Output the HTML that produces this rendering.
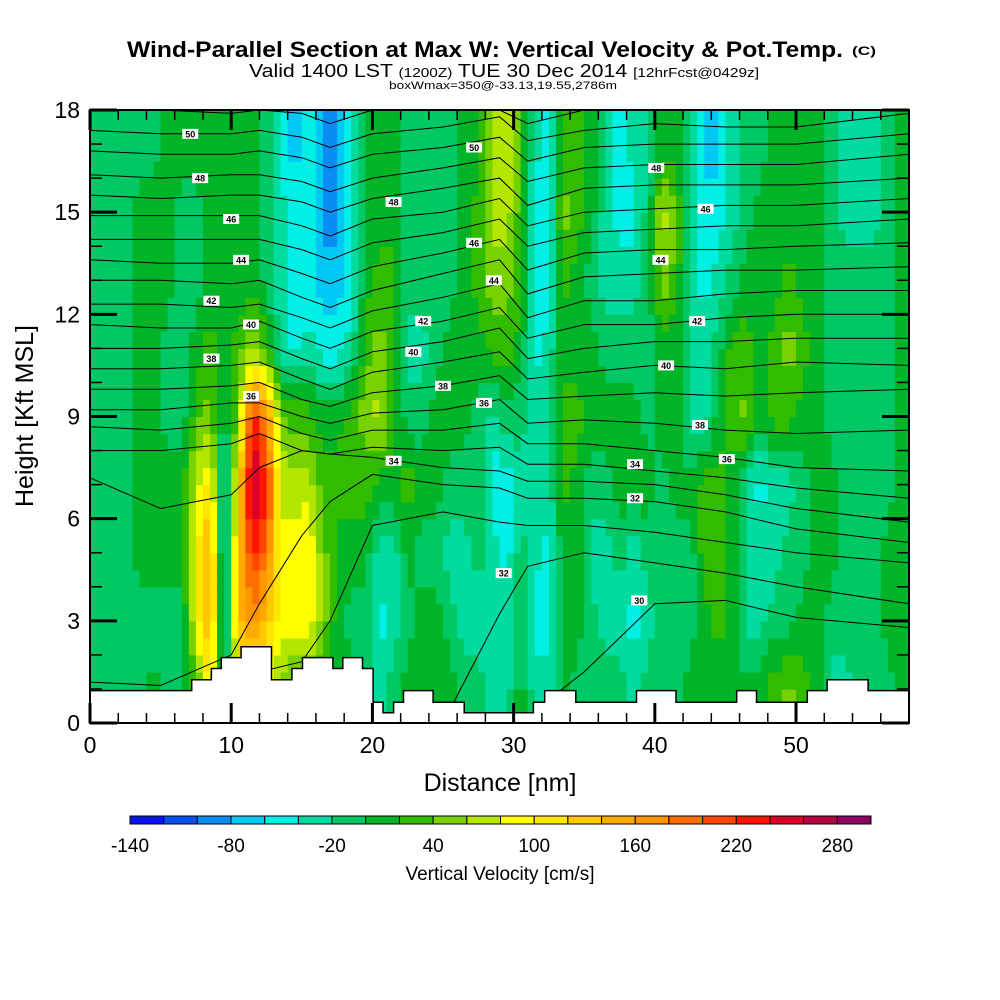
<!DOCTYPE html>
<html><head><meta charset="utf-8"><title>Wind-Parallel Section</title>
<style>html,body{margin:0;padding:0;background:#fff;}svg{display:block;font-family:"Liberation Sans",sans-serif;}</style>
</head><body>
<svg id="chart" width="1000" height="1000" viewBox="0 0 1000 1000" xmlns="http://www.w3.org/2000/svg">
<g>
<text x="127" y="57" font-size="22" font-weight="bold" textLength="716" lengthAdjust="spacingAndGlyphs">Wind-Parallel Section at Max W: Vertical Velocity &amp; Pot.Temp.</text>
<text x="852" y="55" font-size="12" font-weight="bold" textLength="24" lengthAdjust="spacingAndGlyphs">(C)</text>
<text x="249" y="77" font-size="18" textLength="510" lengthAdjust="spacingAndGlyphs">Valid 1400 LST <tspan font-size="13">(1200Z)</tspan> TUE 30 Dec 2014 <tspan font-size="13">[12hrFcst@0429z]</tspan></text>
<text x="389" y="89" font-size="11" textLength="228" lengthAdjust="spacingAndGlyphs">boxWmax=350@-33.13,19.55,2786m</text>
</g>
<g id="heat"></g>
<g id="contours" fill="none" stroke="#000" stroke-width="1"></g>
<g id="labels"></g>
<g id="terrain"></g>
<rect x="90" y="110" width="819" height="613" fill="none" stroke="#000" stroke-width="2"/>
<g id="ticks" stroke="#000"></g>
<g id="ticklabels" font-size="23"></g>
<text x="500" y="791" font-size="25" text-anchor="middle">Distance [nm]</text>
<text x="0" y="0" font-size="25" text-anchor="middle" transform="translate(33,416) rotate(-90)">Height [Kft MSL]</text>
<g id="colorbar"></g>
<text x="500" y="880" font-size="19" text-anchor="middle">Vertical Velocity [cm/s]</text>
</svg>
<script>
// ---- data ----
const palette = ["#0a14f0","#0050f5","#0a8cf5","#00c8f5","#00f0e6","#00dca0","#00c864","#00b428","#32bc00","#78d200","#b4e600","#ffff00","#ffe600","#ffc800","#ffaa00","#ff9600","#ff6e00","#ff4600","#ff1400","#dc0028","#b40040","#8c0064"];
const cbTickValues = [-140,-80,-20,40,100,160,220,280];
const xTickValues = [0,10,20,30,40,50];
const yTickValues = [0,3,6,9,12,15,18];
// vertical velocity profiles, one per 1-nm column (bottom 0-2 kft ... top 16-18 kft), cm/s
const wProfiles = [
[-10,-10,-10,-10,-10,-10,-10,-10,-10],
[-10,-10,-10,-10,-10,-10,-10,-10,-10],
[-10,-10,-10,-10,-10,-10,-10,-10,-10],
[-10,-10,10,10,10,10,10,10,-10],
[10,-10,10,10,10,10,10,10,-10],
[-10,-10,10,10,-10,-10,10,10,10],
[-10,-10,10,10,-10,-10,-10,-10,10],
[30,90,90,70,30,10,-10,-10,10],
[110,150,150,110,50,30,10,10,10],
[-30,-50,-50,-50,-10,10,10,10,10],
[90,130,130,110,50,30,10,10,10],
[110,170,230,270,230,50,10,10,10],
[90,130,190,230,170,30,-10,-10,-10],
[50,90,90,70,50,-30,-30,-30,-50],
[30,90,90,70,30,-50,-50,-50,-70],
[30,100,100,70,30,-30,-50,-50,-50],
[10,50,50,30,10,-50,-70,-90,-90],
[10,10,10,30,10,-50,-70,-90,-90],
[10,-10,10,30,30,-30,-50,-50,-50],
[-10,-10,10,30,50,30,10,10,10],
[-30,-50,-30,10,70,50,30,10,10],
[-10,-30,-30,10,30,30,30,10,10],
[10,-10,10,30,-10,-30,-10,-10,-10],
[10,10,-10,10,-10,-30,-10,-10,-10],
[10,10,-10,10,10,-10,-10,-10,-10],
[10,-10,-30,-10,10,10,-10,-10,-10],
[-10,-30,-30,-10,10,10,10,10,10],
[-10,-30,-10,-10,-10,10,30,30,10],
[-30,-30,-30,-50,-30,30,50,70,70],
[-30,-30,-50,-50,-10,30,50,70,70],
[10,-10,-10,-30,-10,10,30,30,30],
[-30,-50,-30,-30,-30,-50,-50,-50,-30],
[-30,-50,-50,-30,-30,-30,-50,-50,-50],
[10,10,10,30,30,10,30,50,30],
[-10,10,10,10,30,10,10,30,30],
[-10,-10,-30,-10,10,10,-10,10,10],
[-10,-30,-30,-10,10,-10,-30,-30,-30],
[-10,-30,-10,10,10,-10,-30,-50,-50],
[-30,-50,-30,10,10,-10,-30,-50,-30],
[-10,-30,-10,10,-10,-10,-10,-10,-30],
[-10,-10,-10,-10,10,10,50,70,10],
[-10,-10,-10,10,10,10,30,50,10],
[10,-10,-10,10,-30,-30,-30,-30,-30],
[10,10,30,30,-30,-30,-50,-50,-70],
[10,30,30,30,10,-10,-30,-50,-70],
[10,10,10,10,30,30,-10,-30,-30],
[10,-30,-30,-30,50,30,10,-10,-10],
[10,-30,-30,-50,10,10,10,10,-10],
[30,-10,-30,-30,30,30,10,10,10],
[50,-10,-10,-30,30,50,30,10,10],
[30,10,-10,-10,10,30,10,10,10],
[10,10,10,10,10,10,10,10,10],
[-30,-10,10,10,-10,-10,-10,-10,-10],
[-30,-10,-10,-10,-10,-10,-10,-30,-30],
[-10,-10,-10,-10,-10,-10,-10,-30,-30],
[-10,-10,-10,-10,-10,-10,-10,-30,-30],
[-10,10,10,-10,-10,-10,-10,-10,-10],
[10,10,10,10,10,10,10,10,10]
];
// potential temperature contour control distances (nm) and heights (kft)
const thetaX = [0,5,10,12,15,17,20,25,29,31,35,40,45,50,58];
const thetaLevels = [51,50,49,48,47,46,45,44,43,42,41,40,39,38,37,36,35,34,33,32,31,30];
const thetaHeights = [
[18.0,18.0,17.9,18.0,17.9,17.6,18.0,18.0,18.0,17.6,18.0,18.0,18.0,18.0,18.0],
[17.4,17.3,17.3,17.4,17.2,16.9,17.3,17.5,17.8,17.1,17.4,17.6,17.5,17.5,17.9],
[16.8,16.7,16.7,16.8,16.6,16.3,16.7,16.9,17.2,16.5,16.9,17.0,17.0,17.0,17.3],
[16.1,16.0,16.1,16.1,15.9,15.6,16.0,16.3,16.6,15.9,16.3,16.4,16.4,16.4,16.7],
[15.5,15.4,15.5,15.5,15.3,15.0,15.4,15.7,16.0,15.2,15.7,15.8,15.8,15.8,16.0],
[14.9,14.9,14.9,14.9,14.6,14.3,14.8,15.0,15.4,14.6,15.0,15.1,15.2,15.2,15.4],
[14.2,14.2,14.2,14.2,13.9,13.6,14.1,14.4,14.8,14.0,14.4,14.5,14.6,14.6,14.8],
[13.6,13.5,13.5,13.6,13.2,12.9,13.4,13.8,14.2,13.3,13.8,13.9,13.9,14.0,14.1],
[13.0,13.0,12.9,13.0,12.5,12.2,12.7,13.2,13.6,12.6,13.1,13.2,13.3,13.3,13.4],
[12.3,12.3,12.2,12.3,11.9,11.6,12.1,12.5,12.9,11.9,12.4,12.4,12.6,12.7,12.7],
[11.7,11.6,11.6,11.8,11.3,11.0,11.5,11.8,12.2,11.3,11.7,11.7,11.9,12.0,12.0],
[11.0,11.0,11.1,11.2,10.7,10.4,10.9,11.2,11.6,10.7,11.0,11.2,11.2,11.3,11.3],
[10.4,10.4,10.5,10.6,10.1,9.8,10.3,10.6,10.9,10.1,10.3,10.5,10.4,10.6,10.5],
[9.8,9.8,9.9,10.0,9.5,9.3,9.7,9.9,10.2,9.5,9.6,9.7,9.6,9.7,9.8],
[9.2,9.2,9.4,9.4,9.0,8.8,9.1,9.2,9.5,8.8,8.9,8.8,8.6,8.5,8.6],
[8.7,8.6,8.8,9.0,8.5,8.3,8.6,8.6,8.8,8.2,8.2,8.0,7.8,7.5,7.4],
[8.0,8.0,8.2,8.5,8.0,7.9,8.1,8.0,8.1,7.6,7.6,7.4,7.2,6.9,6.6],
[7.2,6.3,6.7,7.5,8.0,7.9,7.8,7.5,7.4,7.1,7.1,7.0,6.7,6.3,5.9],
[1.2,1.1,2.0,3.5,5.5,6.5,7.3,7.0,6.9,6.6,6.6,6.5,6.2,5.7,5.3],
[0.0,0.0,0.0,1.5,1.8,3.0,5.8,6.2,5.9,5.8,5.8,5.6,5.3,5.0,4.7],
[0.0,0.0,0.0,0.0,0.0,0.0,0.0,0.0,3.2,4.6,5.0,4.7,4.4,4.0,3.5],
[0.0,0.0,0.0,0.0,0.0,0.0,0.0,0.0,0.0,0.2,1.5,3.5,3.6,3.1,2.8]
];
const labelTexts = ["50","48","46","44","42","40","38","36","50","48","46","44","42","40","38","36","34","32","48","46","44","42","40","38","36","34","32","30"];
const labelDist = [7.1,7.8,10.0,10.7,8.6,11.4,8.6,11.4,27.2,21.5,27.2,28.6,23.6,22.9,25.0,27.9,21.5,29.3,40.1,43.6,40.4,43.0,40.8,43.2,45.1,38.6,38.6,38.9];
const labelHeight = [17.3,16.0,14.8,13.6,12.4,11.7,10.7,9.6,16.9,15.3,14.1,13.0,11.8,10.9,9.9,9.4,7.7,4.4,16.3,15.1,13.6,11.8,10.5,8.75,7.75,7.6,6.6,3.6];
// terrain
const terrainEdges = [0,7.2,8.6,9.3,10.7,12.85,14.3,15.05,17.2,17.9,19.3,20.05,20.75,21.5,22.2,24.3,26.5,31.4,32.2,34.4,38.7,41.5,45.8,47.2,50.8,52.2,55.1,58];
const terrainHeights = [0.95,1.27,1.6,1.92,2.24,1.27,1.6,1.92,1.6,1.92,1.6,0.61,0.3,0.61,0.95,0.61,0.3,0.61,0.95,0.61,0.95,0.61,0.95,0.61,0.95,1.27,0.95];

// ---- axes ----
const NS = "http://www.w3.org/2000/svg";
const X0 = 90, X1 = 909, Y0 = 723, Y1 = 110, XMAX = 58, YMAX = 18;
function xs(d){ return X0 + d/XMAX*(X1-X0); }
function ys(h){ return Y0 - h/YMAX*(Y0-Y1); }
function mk(tag, attrs, parent){ const e = document.createElementNS(NS, tag); for (const k in attrs) e.setAttribute(k, attrs[k]); parent.appendChild(e); return e; }
function colorFor(v){ let i = Math.floor((v+140)/20); i = Math.max(0, Math.min(palette.length-1, i)); return palette[i]; }
function wAt(d, h){
  const nc = wProfiles.length, nr = wProfiles[0].length;
  let c = d - 0.5; c = Math.max(0, Math.min(nc-1, c));
  let r = (h - 1)/2; r = Math.max(0, Math.min(nr-1, r));
  const c0 = Math.floor(c), c1 = Math.min(nc-1, c0+1), r0 = Math.floor(r), r1 = Math.min(nr-1, r0+1);
  const fc = c - c0, fr = r - r0;
  const a = wProfiles[c0][r0]*(1-fc) + wProfiles[c1][r0]*fc;
  const b = wProfiles[c0][r1]*(1-fc) + wProfiles[c1][r1]*fc;
  return a*(1-fr) + b*fr;
}
// heatmap
const heat = document.getElementById('heat');
const dStep = 0.5, hStep = 0.5;
for (let d = 0; d < XMAX; d += dStep){
  for (let h = 0; h < YMAX; h += hStep){
    const v = wAt(d + dStep/2, h + hStep/2);
    const r = mk('rect', {x: xs(d).toFixed(2), y: ys(h+hStep).toFixed(2), width: (xs(d+dStep)-xs(d)+0.6).toFixed(2), height: (ys(h)-ys(h+hStep)+0.6).toFixed(2), fill: colorFor(v)}, heat);
    
    
  }
}
// contours
const cg = document.getElementById('contours');
thetaHeights.forEach((row, i) => {
  const pts = row.map((h, j) => xs(thetaX[j]).toFixed(1) + ',' + ys(h).toFixed(1)).join(' ');
  const p = mk('polyline', {points: pts}, cg);
  
  
});
// contour labels
const lg = document.getElementById('labels');
labelTexts.forEach((t, i) => {
  const cx = xs(labelDist[i]), cy = ys(labelHeight[i]);
  const g = mk('g', {}, lg);
  
  
  mk('rect', {x: cx-8, y: cy-5, width: 16, height: 10, fill: '#fff'}, g);
  const tx = mk('text', {x: cx, y: cy+3.5, 'font-size': 9, 'font-weight': 'bold', 'text-anchor': 'middle'}, g);
  tx.textContent = t;
});
// terrain
const tg = document.getElementById('terrain');
let dpath = 'M' + xs(0) + ',' + ys(0);
terrainHeights.forEach((h, i) => { dpath += ' L' + xs(terrainEdges[i]).toFixed(1) + ',' + ys(h).toFixed(1) + ' L' + xs(terrainEdges[i+1]).toFixed(1) + ',' + ys(h).toFixed(1); });
dpath += ' L' + xs(XMAX) + ',' + ys(0) + ' Z';
const tp = mk('path', {d: dpath, fill: '#fff', stroke: '#000', 'stroke-width': 1.5}, tg);


// ticks
const tk = document.getElementById('ticks');
for (let d = 0; d <= XMAX; d += 2){
  const major = d % 10 === 0, L = major ? 20 : 10, w = major ? 3 : 1.5;
  mk('line', {x1: xs(d), y1: Y0, x2: xs(d), y2: Y0-L, 'stroke-width': w}, tk);
  mk('line', {x1: xs(d), y1: Y1, x2: xs(d), y2: Y1+L, 'stroke-width': w}, tk);
}
for (let h = 0; h <= YMAX; h += 1){
  const major = h % 3 === 0, L = major ? 27 : 12, w = major ? 3 : 1.5;
  mk('line', {x1: X0, y1: ys(h), x2: X0+L, y2: ys(h), 'stroke-width': w}, tk);
  mk('line', {x1: X1, y1: ys(h), x2: X1-L, y2: ys(h), 'stroke-width': w}, tk);
}
const tl = document.getElementById('ticklabels');
xTickValues.forEach(v => {
  const t = mk('text', {x: xs(v), y: Y0+30, 'text-anchor': 'middle'}, tl);
  
  
  t.textContent = v;
});
yTickValues.forEach(v => {
  const t = mk('text', {x: X0-10, y: ys(v)+8, 'text-anchor': 'end'}, tl);
  
  
  t.textContent = v;
});
// colorbar
const cb = document.getElementById('colorbar');
const CB0 = 130, CB1 = 871, bw = (CB1-CB0)/palette.length;
palette.forEach((c, i) => {
  const r = mk('rect', {x: CB0 + i*bw, y: 816, width: bw, height: 8, fill: c, stroke: '#000', 'stroke-width': 1}, cb);
  
  
});
cbTickValues.forEach(v => {
  const t = mk('text', {x: CB0 + (v+140)/20*bw, y: 852, 'font-size': 19, 'text-anchor': 'middle'}, cb);
  
  
  t.textContent = v;
});
</script>
</body></html>
